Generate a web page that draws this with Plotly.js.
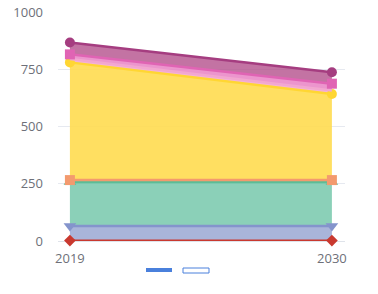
<!DOCTYPE html>
<html><head><meta charset="utf-8">
<script src="https://cdn.plot.ly/plotly-3.0.1.min.js"></script>
<style>html,body{margin:0;padding:0;background:#fff}#c{width:378px;height:294px}</style>
</head><body><div id="c"></div>
<script>
const years = [2019, 2030];
const names = ['A','B','C','D','E','F','G','H'];
const sRed = [2, 2];
const sBlue = [63, 63];
const sTeal = [193, 193];
const sOrange = [8, 8];
const sYellow = [514, 376];
const sLightPink = [15, 15];
const sPink = [20, 30];
const sPurple = [52, 50];

const series = [sRed, sBlue, sTeal, sOrange, sYellow, sLightPink, sPink, sPurple];
const lineC = ['#c9392f','#8494cc','#5dbd96','#f39a6e','#ffd633','#f2a7d0','#e064b4','#a53d80'];
const fillC = ['rgba(201,57,47,0.5)','rgba(140,156,205,0.75)','rgba(110,196,166,0.8)','rgba(243,154,110,0.7)','rgba(255,219,80,0.9)','rgba(244,170,212,0.9)','rgba(233,130,196,0.85)','rgba(180,80,140,0.8)'];
const sym = ['diamond','triangle-down','triangle-up','square','circle','circle','square','circle'];
const msize = [9,11,11,10,10,0,10,10];
const lw = [2,2.5,2.5,2.5,2.5,2.5,2.5,2.5];

const traces = series.map((s,i)=>({
  x: years, y: s, name: names[i], type:'scatter', mode: msize[i]?'lines+markers':'lines',
  stackgroup:'one', fillcolor: fillC[i], cliponaxis:false,
  line:{color:lineC[i], width:lw[i]},
  marker:{symbol:sym[i], size:msize[i], color:lineC[i]},
  showlegend:false
}));

const layout = {
  width:378, height:294,
  margin:{l:58, r:33, t:12, b:53},
  paper_bgcolor:'#fff', plot_bgcolor:'#fff',
  font:{family:'"Open Sans", Roboto, sans-serif', color:'#6e7079', size:13},
  xaxis:{range:[2019-0.5, 2030+0.55], tickvals:years, ticktext:years.map(String), showgrid:false,
    zeroline:false, showline:false, ticks:'', tickfont:{size:13, color:'#6e7079'}, ticklabelstandoff:8},
  yaxis:{range:[0,1000], tickvals:[0,250,500,750,1000], gridcolor:'#e6e9f0', zeroline:true, zerolinecolor:'#dfe3ea',
    showline:false, ticks:'', tickfont:{size:13, color:'#6e7079'}, ticklabelstandoff:14},
  shapes:[
    {type:'rect', xref:'paper', yref:'paper', x0:(146-58)/287, x1:(172-58)/287, y0:(294-53-272)/229, y1:(294-53-268)/229, fillcolor:'#4a80dc', line:{width:0}},
    {type:'rect', xref:'paper', yref:'paper', x0:(183-58)/287, x1:(209-58)/287, y0:(294-53-273)/229, y1:(294-53-268)/229, fillcolor:'rgba(0,0,0,0)', line:{width:1, color:'#4a80dc'}}
  ]
};
Plotly.newPlot('c', traces, layout, {displayModeBar:false, staticPlot:true});
</script></body></html>
